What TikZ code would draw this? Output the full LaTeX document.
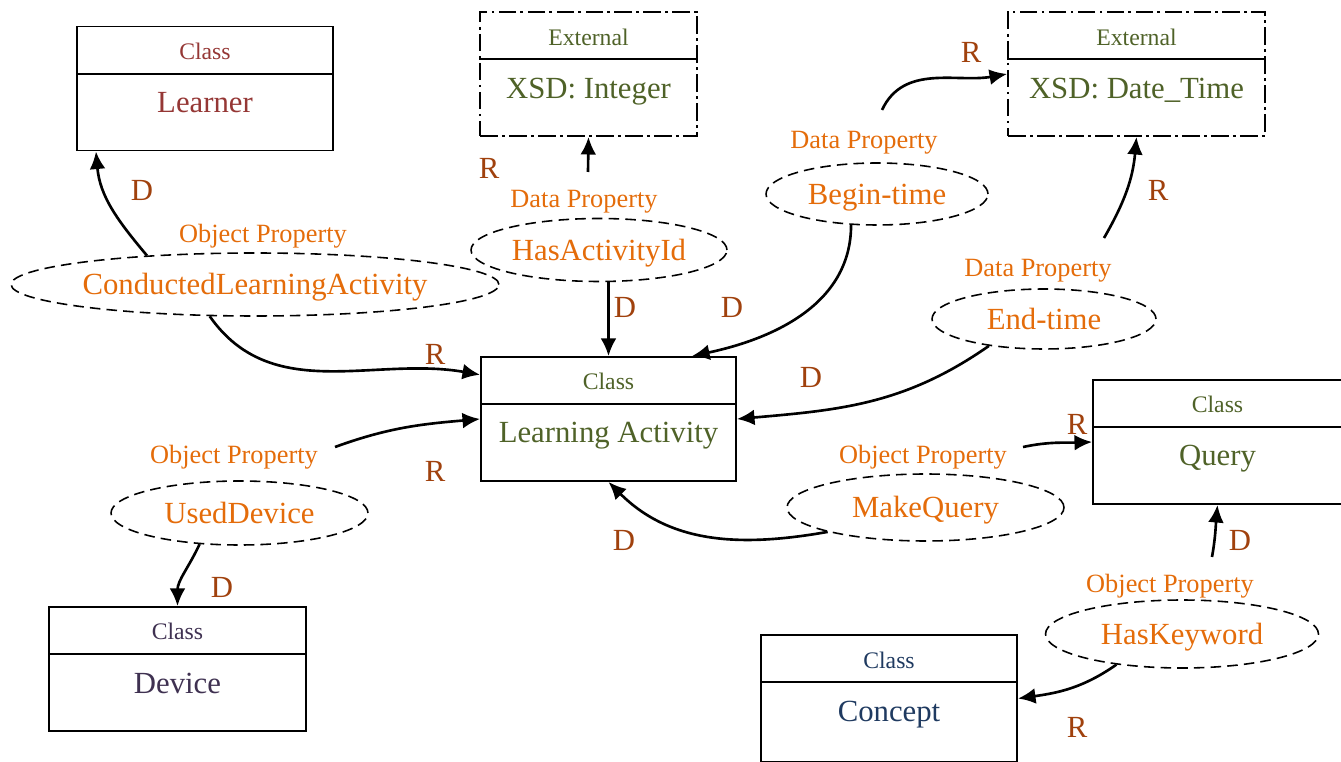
\documentclass[tikz,border=0pt]{standalone}
\usepackage{fontspec}
\setmainfont{Liberation Serif}
\usetikzlibrary{calc,shapes.geometric,arrows.meta}

\definecolor{lrnred}{HTML}{953735}
\definecolor{olive}{HTML}{4F6228}
\definecolor{devpurple}{HTML}{3F3151}
\definecolor{cptblue}{HTML}{1F3A60}
\definecolor{proporange}{HTML}{E46C0A}
\definecolor{rdbrown}{HTML}{A0410D}

\begin{document}
\begin{tikzpicture}[x=0.02cm,y=0.02cm,
    classbox/.style={draw,line width=1.1pt,minimum height=2.48cm,inner sep=0pt},
    extbox/.style={classbox,dash pattern=on 10pt off 2.5pt on 1.5pt off 2.5pt},
    headtxt/.style={font=\fontsize{13.5}{16}\selectfont},
    titletxt/.style={font=\fontsize{17.5}{21}\selectfont,text height=15.4pt,text depth=3.85pt},
    propell/.style={draw,ellipse,dash pattern=on 6pt off 3.5pt,line width=0.9pt,inner sep=0pt,
        text=proporange,font=\fontsize{17.5}{21}\selectfont,text height=15.4pt,text depth=3.85pt},
    proptype/.style={text=proporange,font=\fontsize{15}{18}\selectfont,text height=13.2pt,text depth=3.3pt},
    rdlabel/.style={text=rdbrown,font=\fontsize{17.5}{21}\selectfont},
    rel/.style={-{Latex[length=10pt,width=9pt]},line width=1.5pt},
  ]
    \useasboundingbox (0,0) rectangle (1341,761);

    % classes and external types
    \node[classbox,minimum width=5.12cm] at (205,672.5) (Lrn) {};
    \node[extbox,minimum width=4.34cm] at (588.5,687) (Int) {};
    \node[extbox,minimum width=5.14cm] at (1136.5,687) (Dtm) {};
    \node[classbox,minimum width=5.10cm] at (608.5,342) (LAc) {};
    \node[classbox,minimum width=4.98cm] at (1217.5,319) (Qry) {};
    \node[classbox,minimum width=5.14cm] at (177.5,92) (Dev) {};
    \node[classbox,minimum width=5.12cm,minimum height=2.54cm] at (889,62.5) (Cpt) {};

    \foreach \b in {Lrn,Int,Dtm,LAc,Qry,Dev,Cpt}
      \draw[line width=1.1pt] ($(\b.north west)+(0,-48)$) -- ($(\b.north east)+(0,-48)$);

    \node[headtxt,text=lrnred] at ($(Lrn.north)+(0,-25.5)$) (LrnH) {Class};
    \node[titletxt,text=lrnred] at ($(Lrn.north)+(0,-76.5)$) (LrnT) {Learner};
    \node[headtxt,text=olive] at ($(Int.north)+(0,-26.5)$) (IntH) {External};
    \node[titletxt,text=olive] at ($(Int.north)+(0,-77)$) (IntT) {XSD: Integer};
    \node[headtxt,text=olive] at ($(Dtm.north)+(0,-26.5)$) (DtmH) {External};
    \node[titletxt,text=olive] at ($(Dtm.north)+(0,-77)$) (DtmT) {XSD: Date\_Time};
    \node[headtxt,text=olive] at ($(LAc.north)+(0,-25.5)$) (LAcH) {Class};
    \node[titletxt,text=olive] at ($(LAc.north)+(0,-76.5)$) (LAcT) {Learning Activity};
    \node[headtxt,text=olive] at ($(Qry.north)+(0,-25.5)$) (QryH) {Class};
    \node[titletxt,text=olive] at ($(Qry.north)+(0,-76.5)$) (QryT) {Query};
    \node[headtxt,text=devpurple] at ($(Dev.north)+(0,-25.5)$) (DevH) {Class};
    \node[titletxt,text=devpurple] at ($(Dev.north)+(0,-77)$) (DevT) {Device};
    \node[headtxt,text=cptblue] at ($(Cpt.north)+(0,-26)$) (CptH) {Class};
    \node[titletxt,text=cptblue] at ($(Cpt.north)+(0,-77)$) (CptT) {Concept};

    % properties
    \node[propell,minimum width=9.72cm,minimum height=1.26cm] at (255,476.5) (cla) {ConductedLearningActivity};
    \node[propell,minimum width=5.12cm,minimum height=1.26cm] at (599,511) (hai) {HasActivityId};
    \node[propell,minimum width=4.44cm,minimum height=1.24cm] at (877,567) (bgt) {Begin-time};
    \node[propell,minimum width=4.48cm,minimum height=1.20cm] at (1044,442) (ent) {End-time};
    \node[propell,minimum width=5.14cm,minimum height=1.28cm] at (239.5,248) (usd) {UsedDevice};
    \node[propell,minimum width=5.54cm,minimum height=1.34cm] at (925.5,253.5) (mkq) {MakeQuery};
    \node[propell,minimum width=5.46cm,minimum height=1.36cm] at (1182,127) (hkw) {HasKeyword};

    \node[proptype] at (263,527) (claT) {Object Property};
    \node[proptype] at (584,562) (haiT) {Data Property};
    \node[proptype] at (864,621) (bgtT) {Data Property};
    \node[proptype] at (1038,493) (entT) {Data Property};
    \node[proptype] at (234,306) (usdT) {Object Property};
    \node[proptype] at (923,306) (mkqT) {Object Property};
    \node[proptype] at (1170,177) (hkwT) {Object Property};

    \coordinate (haiUp) at (588,589);
    \coordinate (bgtUp) at (882,651);
    \coordinate (entUp) at (1104,523);
    \coordinate (usdRt) at (335,314);
    \coordinate (mkqRt) at (1023,314);
    \coordinate (hkwUp) at (1212,204);

    % domain / range arrows
    \draw[rel] (cla.165) to[out=130,in=-85] (Lrn.210);
    \draw[rel] (cla.215) to[out=-55,in=170] (LAc.161);
    \draw[rel] (LAc.north |- hai.south) -- (LAc.north);
    \draw[rel] (haiUp) -- (Int.south);
    \draw[rel] (bgt.230) to[out=-90,in=12] (LAc.37);
    \draw[rel] (bgtUp) to[out=65,in=190] (Dtm.west);
    \draw[rel] (ent.206) to[out=-145,in=5] (LAc.east);
    \draw[rel] (entUp) to[out=60,in=-95] (Dtm.south);
    \draw[rel] (usdRt) to[out=20,in=185] (LAc.west);
    \draw[rel] (usd.218) to[out=-115,in=90] (Dev.north);
    \draw[rel] (mkq.194) to[out=190,in=-45] (LAc.south);
    \draw[rel] (mkqRt) to[out=12,in=182] (Qry.west);
    \draw[rel] (hkw.205) to[out=-145,in=8] (Cpt.east);
    \draw[rel] (hkwUp) to[out=80,in=-95] (Qry.south);

    \node[rdlabel] at (142,571) (dLrn) {D};
    \node[rdlabel] at (435,407) (rCla) {R};
    \node[rdlabel] at (489,593) (rHai) {R};
    \node[rdlabel] at (625,454) (dHai) {D};
    \node[rdlabel] at (732,454) (dBgt) {D};
    \node[rdlabel] at (971,709) (rBgt) {R};
    \node[rdlabel] at (811,384) (dEnt) {D};
    \node[rdlabel] at (1158,571) (rEnt) {R};
    \node[rdlabel] at (435,290) (rUsd) {R};
    \node[rdlabel] at (222,174) (dUsd) {D};
    \node[rdlabel] at (624,221) (dMkq) {D};
    \node[rdlabel] at (1077,337) (rMkq) {R};
    \node[rdlabel] at (1077,34) (rHkw) {R};
    \node[rdlabel] at (1240,221) (dHkw) {D};
\end{tikzpicture}
\end{document}
